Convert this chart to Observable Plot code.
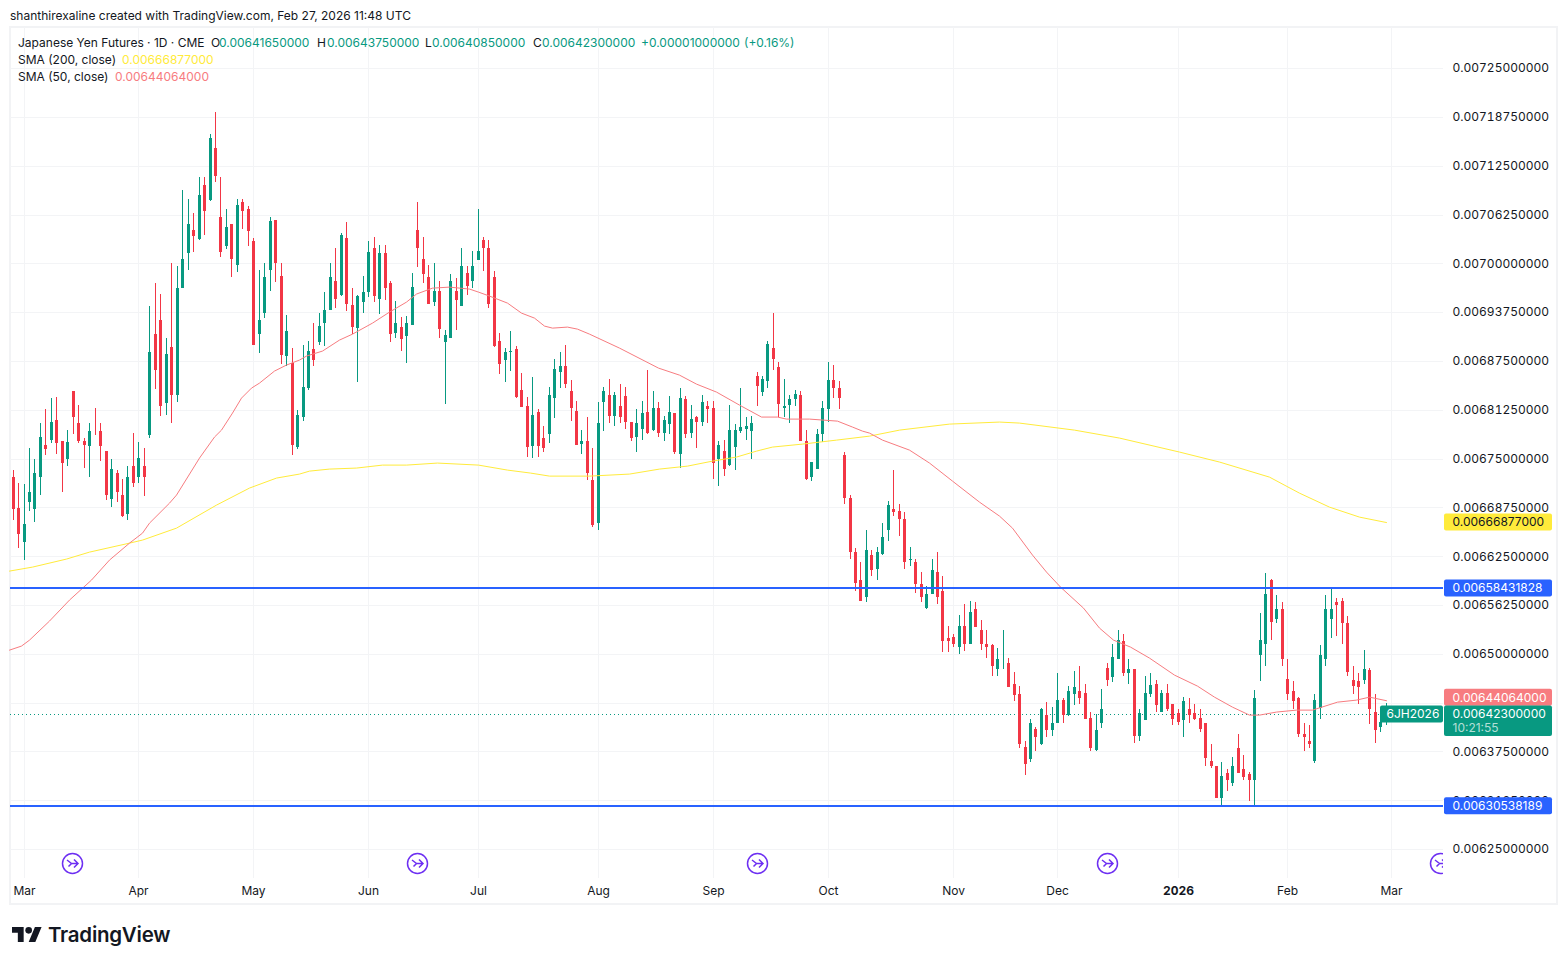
<!DOCTYPE html>
<html>
<head>
<meta charset="utf-8">
<script src="https://cdn.jsdelivr.net/npm/d3@7"></script>
<script src="https://cdn.jsdelivr.net/npm/@observablehq/plot@0.6"></script>
<style>
  html, body { margin: 0; padding: 0; background: #fff; }
  body { width: 1567px; height: 964px; position: relative; overflow: hidden; font-family: Inter, sans-serif; color: #131722; }
  #credit { position: absolute; left: 10px; top: 8px; font-size: 12px; line-height: 15px; white-space: nowrap; }
  #chart { position: absolute; left: 0; top: 27px; }
  #chart svg { display: block; }
  #pane { position: absolute; left: 9px; top: 26px; width: 1545px; height: 875px; border: 2px solid #f2f3f5; pointer-events: none; }
  .lg { position: absolute; left: 18px; font-size: 12px; line-height: 15px; white-space: nowrap; }
  .lg span { position: absolute; top: 0; }
  #brand { position: absolute; left: 12px; top: 923px; display: flex; align-items: center; height: 22px; }
  #brand b { font-size: 20.5px; font-weight: 600; letter-spacing: -0.25px; margin-left: 6px; color: #131722; }
</style>
</head>
<body>
<div id="credit">shanthirexaline created with TradingView.com, Feb 27, 2026 11:48 UTC</div>
<div id="pane"></div>
<div id="chart"></div>
<div class="lg" style="top:35px">Japanese Yen Futures · 1D · CME
  <span style="left:193px">O</span><span style="left:201px;color:#089981">0.00641650000</span>
  <span style="left:299px">H</span><span style="left:309px;color:#089981">0.00643750000</span>
  <span style="left:407px">L</span><span style="left:414px;color:#089981">0.00640850000</span>
  <span style="left:515px">C</span><span style="left:524px;color:#089981">0.00642300000</span>
  <span style="left:623px;color:#089981">+0.00001000000</span><span style="left:726px;color:#089981">(+0.16%)</span>
</div>
<div class="lg" style="top:52px">SMA (200, close)<span style="left:104px;color:#ffeb3b">0.00666877000</span></div>
<div class="lg" style="top:69px">SMA (50, close)<span style="left:97px;color:#f77c80">0.00644064000</span></div>
<div id="brand">
  <svg width="30" height="15" viewBox="0 4 36 18"><path fill="#131722" d="M14 22H7V11H0V4h14v18zM28 22h-8l7.5-18h8L28 22z"/><circle fill="#131722" cx="20" cy="8" r="4"/></svg>
  <b>TradingView</b>
</div>
<script>
// All prices in units of 0.00001 USD per JPY
const unit = 1e-5;
const open = [
672.6,668.7,664.3,669.5,668.5,672.6,676.7,677.4,679.9,677.2,
674.9,683.6,679.6,677.3,676.6,678.7,678.5,676.0,669.8,673.2,
670.3,667.9,674.0,672.6,674.0,678.0,690.9,692.7,682.1,689.3,
683.1,696.8,701.3,704.3,703.1,710.0,708.1,714.8,705.9,702.2,
705.1,699.8,707.9,706.9,702.8,690.9,693.7,699.2,705.5,698.4,
688.1,687.3,676.5,680.3,684.1,689.0,689.9,692.4,694.0,697.7,
695.9,703.2,694.7,691.7,695.0,696.3,702.0,695.4,701.3,697.5,
691.1,691.9,690.7,692.1,704.3,700.5,698.2,695.0,696.4,689.9,
690.5,696.5,694.5,698.8,697.8,700.4,703.0,701.9,698.2,690.1,
687.6,688.6,689.0,683.8,681.7,676.6,681.0,677.7,678.2,682.7,
686.1,686.8,683.6,681.1,676.9,677.3,672.3,666.7,682.3,683.1,
680.4,681.7,683.0,679.7,677.8,678.8,681.0,678.7,681.5,678.3,
679.4,680.8,675.6,682.6,678.3,680.3,679.7,681.7,681.5,674.9,
676.0,674.2,676.5,678.5,678.8,678.5,685.6,683.5,684.9,689.2,
686.7,681.5,681.8,682.6,683.2,677.3,672.7,673.7,678.1,681.4,
685.1,684.0,675.5,669.9,663.0,659.4,657.3,662.7,660.9,662.8,
665.8,668.6,668.3,667.3,662.0,661.7,658.9,655.9,657.6,660.5,
658.0,652.0,652.1,650.9,653.6,651.3,655.7,653.1,651.2,651.1,
648.1,648.9,648.8,646.1,644.8,638.1,636.5,640.4,638.5,642.2,
640.3,641.2,644.1,642.2,644.9,645.3,645.0,641.8,637.7,641.1,
648.2,647.0,649.4,651.7,647.5,648.0,639.5,641.5,644.8,646.1,
642.5,645.0,643.6,642.4,641.5,643.0,642.4,641.8,641.2,636.3,
635.7,631.6,634.8,633.4,637.9,635.2,634.6,633.9,649.9,651.3,
659.5,654.5,655.8,646.8,645.3,644.4,639.7,638.9,636.3,643.1,
649.3,654.5,656.6,656.8,654.0,646.7,646.5,646.6,647.9,642.6,
640.6,641.65];
const close = [
668.5,665.3,666.6,670.7,673.1,677.8,676.2,679.7,677.0,674.4,
677.1,680.3,677.2,676.8,678.5,678.6,676.6,670.4,673.7,670.7,
667.6,672.7,671.9,675.1,672.6,688.6,686.3,681.7,688.4,683.2,
696.9,700.6,705.1,703.5,708.8,706.7,716.1,711.2,701.4,704.7,
700.5,707.5,706.7,704.1,689.6,692.8,698.2,705.4,700.0,688.2,
691.3,676.7,680.6,684.2,688.8,687.6,692.0,694.0,698.3,695.4,
703.6,694.8,691.8,695.8,696.3,701.4,695.8,701.3,696.9,690.9,
692.4,690.3,692.4,697.0,701.9,698.6,694.8,696.5,691.6,690.8,
697.8,695.3,699.7,697.1,699.6,701.6,701.9,694.8,689.4,687.1,
688.7,688.8,682.9,681.6,676.5,680.6,676.6,676.3,683.1,686.5,
686.9,684.5,681.5,676.7,677.3,673.1,666.5,679.6,683.7,680.4,
683.1,680.3,679.7,677.6,679.5,680.9,678.3,681.5,678.3,680.0,
681.0,675.8,682.7,678.1,680.1,679.7,682.3,681.3,674.4,676.8,
673.7,678.7,678.7,679.0,679.2,679.6,684.3,685.2,689.7,687.8,
682.0,681.7,682.6,683.3,677.3,672.4,674.5,678.1,681.5,685.0,
684.1,682.7,670.0,663.1,659.1,656.8,663.3,660.7,663.1,664.9,
669.1,668.2,667.3,661.8,662.1,658.9,657.3,657.6,660.7,657.3,
651.7,651.6,651.2,653.6,651.3,655.4,653.4,651.3,650.9,648.5,
649.4,649.0,645.8,644.7,638.4,635.9,641.1,639.3,643.0,640.3,
641.1,644.1,642.2,645.3,645.7,644.3,641.7,637.9,640.3,642.9,
646.7,649.6,651.8,647.6,648.1,639.5,642.4,645.0,646.0,643.4,
645.0,642.9,641.7,641.3,643.9,642.2,641.6,640.4,636.7,635.7,
631.6,634.3,633.8,635.6,634.7,634.2,633.9,644.4,651.8,657.6,
654.1,655.8,649.3,644.8,644.0,639.7,639.3,638.4,644.1,649.9,
655.8,655.7,656.2,654.0,647.7,645.9,645.7,648.0,642.9,640.2,
641.3,642.3];
const high = [
673.6,671.9,671.8,676.3,674.9,679.6,681.3,682.7,682.9,677.3,
678.6,683.7,681.9,677.6,679.6,681.5,679.6,676.0,675.0,673.6,
672.4,674.0,678.3,677.1,676.4,694.5,697.5,696.1,690.5,700.0,
699.7,709.4,708.3,706.4,711.0,711.0,716.5,719.4,711.0,707.0,
705.1,708.2,708.3,707.3,703.3,699.1,700.0,705.9,705.6,700.1,
693.4,689.1,681.2,689.5,690.1,692.3,693.6,696.3,700.0,702.0,
703.9,705.3,696.8,696.0,698.4,702.8,703.4,702.3,702.4,697.8,
695.2,693.1,693.3,698.7,707.9,703.4,699.8,700.0,697.8,691.5,
698.6,698.1,701.9,699.7,701.6,706.9,703.4,703.0,699.0,691.1,
689.1,691.3,689.4,685.9,682.9,685.5,681.3,679.2,684.2,687.8,
688.7,689.6,685.0,682.4,678.6,680.3,676.4,682.3,684.2,685.2,
683.5,684.5,684.2,679.7,681.4,682.4,686.3,683.7,682.2,680.4,
683.0,680.9,684.0,683.0,681.9,680.4,683.1,682.4,682.4,677.2,
677.4,681.8,679.4,684.1,680.3,680.5,686.1,685.6,690.0,693.7,
687.4,685.2,683.1,683.8,683.6,678.6,674.6,678.8,682.4,687.4,
687.0,684.9,675.9,670.3,663.6,661.7,665.9,663.3,663.7,666.8,
669.6,673.5,669.2,668.2,663.7,662.1,660.5,658.7,662.2,663.0,
660.0,653.6,652.5,655.0,656.4,656.8,656.7,654.3,653.1,651.3,
650.8,653.0,649.5,647.7,645.9,638.9,641.6,640.6,643.1,643.8,
643.2,647.5,644.3,645.9,647.8,648.5,646.1,642.5,642.3,645.5,
648.8,651.2,653.1,652.5,649.4,648.0,643.0,647.2,647.6,646.7,
645.4,646.2,643.6,642.9,644.5,644.4,643.6,642.9,641.2,638.4,
635.7,636.1,635.2,636.8,639.7,637.0,634.9,645.4,655.2,660.3,
659.6,657.5,656.6,649.4,646.5,644.5,641.1,640.9,644.9,651.1,
657.5,658.5,657.2,657.1,654.8,648.4,647.6,650.5,648.2,644.8,
642.2,643.75];
const low = [
667.2,663.5,662.0,668.3,666.9,670.3,675.4,677.0,675.6,670.7,
674.1,678.1,677.0,673.8,672.6,678.0,674.7,669.7,668.8,669.5,
667.5,667.1,671.3,671.9,670.2,677.7,683.9,680.4,680.6,679.6,
682.2,696.8,699.2,701.4,703.0,703.6,708.0,710.4,700.8,701.8,
698.2,698.9,704.4,702.2,689.5,688.5,693.0,696.4,697.6,687.1,
686.8,675.4,676.2,679.8,683.8,686.8,689.6,689.4,694.0,694.3,
695.8,693.9,690.9,684.8,693.6,695.7,695.0,693.5,695.3,689.9,
690.5,688.8,687.3,692.1,699.5,697.5,694.8,694.6,690.5,682.0,
690.4,691.5,694.5,696.0,696.8,700.4,699.0,694.3,689.3,685.8,
684.8,686.2,682.8,681.6,675.2,675.1,675.2,675.9,677.0,680.2,
684.0,684.1,679.8,676.7,675.6,672.3,666.2,665.8,678.5,679.6,
679.2,679.6,678.8,677.2,675.9,677.4,678.1,678.5,677.8,677.3,
678.2,675.6,673.8,677.6,677.7,676.3,679.2,679.6,672.4,671.5,
672.8,674.0,673.6,678.3,677.4,674.9,681.7,683.0,684.1,686.3,
680.3,680.3,679.6,681.7,677.2,672.3,672.1,673.7,677.1,679.7,
682.8,681.3,669.2,662.2,658.1,656.8,656.6,660.0,659.4,662.6,
664.4,667.7,665.1,660.8,661.3,657.8,656.6,655.7,657.6,656.4,
650.3,650.3,650.9,650.0,650.4,651.2,653.4,650.5,649.5,647.1,
647.1,648.1,645.7,643.9,637.9,634.5,636.1,637.5,638.3,639.3,
639.5,641.2,641.1,642.1,643.5,643.6,641.6,637.5,637.5,640.5,
645.9,646.4,649.4,647.2,646.2,638.6,638.9,641.5,644.5,642.5,
642.5,642.7,640.9,640.9,639.4,641.1,641.5,640.0,635.6,635.4,
631.6,630.6,632.5,633.1,634.7,633.8,631.1,630.6,646.5,648.4,
651.8,653.9,648.4,644.1,642.9,639.3,637.6,637.9,636.0,641.7,
648.5,652.0,652.3,651.2,647.1,644.8,643.6,646.2,641.0,638.6,
640.0,640.85];

// SMA vertices: bar position and value
const sma50Bar = [-0.6,1.6,3,6.7,10.4,14.3,17.7,21.3,23.7,25,28.6,29.9,34.1,36.9,38.1,40.2,41.8,43.6,45.1,47.8,50,52.4,53.6,56.6,59.7,62.1,65.7,68.9,72,73.8,76.7,79.8,83.5,85,87.1,90.3,93,95.4,97.2,98.7,101.4,103.2,105.4,110.9,117.9,121.9,125,128.6,132.8,136.9,139.8,141.4,145.6,150.8,153.5,155.3,156.6,159,163.9,167.6,171.8,176.7,180.4,182.7,186.4,188.9,191.4,195.6,198.7,201.1,204.2,207.8,212.4,216.6,219.7,223,226.1,227.9,231,234.7,237.6,242.2,245.6,248,251];
const sma50 = [650.54,651.06,651.82,654.26,656.95,659.51,662.07,664.24,665.52,666.80,669.36,670.39,675.13,677.82,678.71,680.89,682.81,684.09,684.73,686.27,687.04,687.68,688.19,688.83,690.24,691.0,692.41,693.82,695.10,696.13,696.89,697.02,696.77,696.38,695.87,694.97,693.69,693.05,692.03,691.77,691.90,691.64,691.0,689.21,686.65,685.75,684.60,683.58,681.91,680.38,680.38,680.12,680.12,679.86,679.10,678.58,678.33,677.43,676.15,674.49,672.18,669.49,667.70,666.16,662.71,660.53,658.61,655.92,653.36,651.82,650.93,649.52,647.34,645.93,644.52,643.24,642.22,642.22,642.61,642.86,642.86,643.88,644.14,644.52,644.064];
const sma200Bar = [-0.6,3.6,9.8,14,21.3,23.7,29.9,37.2,43.3,48.2,52.4,54.2,57.9,62.8,67.6,72,77.5,85,90.3,94.5,98.1,105.4,112.7,118.2,123.2,127.9,132.3,135.9,138.9,144.4,150.6,156.6,162.1,171.2,180.4,184,194.1,202.3,213.3,220.6,229.7,235.2,240.7,246.2,251];
const sma200 = [660.66,661.17,662.20,663.09,664.24,664.63,666.16,669.11,671.29,672.57,673.08,673.46,673.72,673.85,674.23,674.23,674.49,674.23,673.59,673.21,672.82,672.82,673.08,673.72,674.10,674.74,675.26,676.02,676.54,676.92,677.43,677.94,678.71,679.48,679.74,679.61,678.71,677.69,675.90,674.62,672.69,670.64,668.85,667.57,666.877];

const gridPrices = [725,718.75,712.5,706.25,700,693.75,687.5,681.25,675,668.75,662.5,656.25,650,643.75,637.5,631.25,625];
const priceTicks = [725,718.75,712.5,706.25,700,693.75,687.5,681.25,675,668.75,662.5,656.25,650,637.5,631.25,625];
const monthBars = [2,23,44,65,85,107,128,149,172,191,213,233,252];
const monthLabels = ["Mar","Apr","May","Jun","Jul","Aug","Sep","Oct","Nov","Dec","2026","Feb","Mar"];
const rollBars = [10.9,73.9,136,200,261];
const levels = [658.431828, 630.538189];
const lastClose = 642.3;

const tagNames = ["0.00666877000","0.00658431828","0.00642300000","0.00630538189"];
const tagValues = [666.877,658.431828,642.3,630.538189];
const tagFills = ["#ffeb3b","#2962ff","#089981","#2962ff"];
const tagInks = ["#131722","#ffffff","#ffffff","#ffffff"];
const smaTagName = "0.00644064000";
const smaTagValue = 644.064;

const GREEN = "#089981", RED = "#f23645", PINK = "#f77c80";
const candles = open.map((o,i) => ({i, open:o*unit, close:close[i]*unit, high:high[i]*unit, low:low[i]*unit,
  c: close[i] >= o ? GREEN : RED}));
const s50 = sma50.map((v,k) => ({x:sma50Bar[k], y:v*unit}));
const s200 = sma200.map((v,k) => ({x:sma200Bar[k], y:v*unit}));
const tags = tagNames.map((t,k) => ({t, v:tagValues[k]*unit, fill:tagFills[k], ink:tagInks[k]}));
const fmt = d => d.toFixed(11);
const GRID = "#f3f4f6";
const TAGH = 1.09 * unit;   // half tag height in price units
const TX1 = 261.68, TX2 = 281.38, TTEXT = 263.15;

const rollSymbol = { draw(ctx, size) {
  const r = Math.sqrt(size / Math.PI);
  ctx.moveTo(r, 0); ctx.arc(0, 0, r, 0, 2 * Math.PI);
  const k = r / 10;
  ctx.moveTo(-5.5*k, -3.5*k); ctx.lineTo(-1*k, 0); ctx.lineTo(-4*k, 3*k);
  ctx.moveTo(-1*k, 0); ctx.lineTo(5.5*k, 0);
  ctx.moveTo(1.5*k, -4*k); ctx.lineTo(5.5*k, 0); ctx.lineTo(1.5*k, 4*k);
}};

const chart = Plot.plot({
  width: 1567, height: 877,
  marginTop: 0, marginBottom: 26, marginLeft: 10, marginRight: 124,
  style: {fontFamily: "Inter, sans-serif", fontSize: "12px", color: "#131722", background: "none"},
  x: {domain: [-0.475, 261.5], round: true, axis: null},
  y: {domain: [621.30*unit, 730.26*unit], axis: null},
  color: {type: "identity"},
  marks: [
    Plot.ruleY(gridPrices.map(d => d*unit), {stroke: GRID, strokeWidth: 1, shapeRendering: "crispEdges"}),
    Plot.ruleX(monthBars, {stroke: GRID, strokeWidth: 1}),
    Plot.axisY(priceTicks.map(d => d*unit), {anchor: "right", tickSize: 0, tickPadding: 9, tickFormat: fmt, label: null, fill: "#131722"}),
    Plot.axisX(monthBars.filter((d,k) => monthLabels[k] !== "2026"), {anchor: "bottom", tickSize: 0, tickPadding: 8, label: null, fill: "#131722",
      tickFormat: d => monthLabels[monthBars.indexOf(d)]}),
    Plot.axisX(monthBars.filter((d,k) => monthLabels[k] === "2026"), {anchor: "bottom", tickSize: 0, tickPadding: 8, label: null, fill: "#131722", fontWeight: 700,
      tickFormat: d => monthLabels[monthBars.indexOf(d)]}),
    Plot.dot(rollBars, {x: d => d, frameAnchor: "bottom", dy: -15, r: 10, symbol: rollSymbol, stroke: "#6d2ff2", strokeWidth: 1.5, fill: "none", clip: "frame"}),
    Plot.ruleY([lastClose*unit], {stroke: GREEN, strokeWidth: 1, strokeDasharray: "1 3", shapeRendering: "crispEdges"}),
    Plot.ruleX(candles, {x: "i", y1: "low", y2: "high", stroke: "c", strokeWidth: 1, shapeRendering: "crispEdges"}),
    Plot.ruleX(candles, {x: "i", y1: "open", y2: "close", stroke: "c", strokeWidth: 3, shapeRendering: "crispEdges"}),
    Plot.line(s200, {x: "x", y: "y", stroke: "#ffeb3b", strokeWidth: 1, curve: "linear"}),
    Plot.line(s50, {x: "x", y: "y", stroke: PINK, strokeWidth: 1, curve: "linear"}),
    Plot.ruleY(levels.map(d => d*unit), {stroke: "#2962ff", strokeWidth: 2, shapeRendering: "crispEdges"}),
    // "6JH2026" symbol tag and price tags
    Plot.rect([lastClose*unit], {x1: 249.98, x2: 261.5, y1: d => d + 1.09*unit, y2: d => d - 1.09*unit, fill: GREEN, rx: 2}),
    Plot.text(["6JH2026"], {x: 251.1, y: () => lastClose*unit, text: d => d, textAnchor: "start", fill: "#fff"}),
    // SMA 50 tag sits pushed upward against the last-price tag, as in the reference
    Plot.rect([smaTagValue*unit], {x1: TX1, x2: TX2, y1: d => d + TAGH, y2: d => d - TAGH, dy: -3, fill: PINK, rx: 2}),
    Plot.text([smaTagName], {x: TTEXT, y: () => smaTagValue*unit, dy: -3, text: d => d, textAnchor: "start", fill: "#fff"}),
    Plot.rect(tags, {x1: TX1, x2: TX2, y1: d => d.v + TAGH, y2: d => d.v === lastClose*unit ? d.v - 2.82*unit : d.v - TAGH, fill: "fill", rx: 2}),
    Plot.text(tags, {x: TTEXT, y: "v", text: "t", textAnchor: "start", fill: "ink"}),
    Plot.text(["10:21:55"], {x: TTEXT, y: () => lastClose*unit, dy: 14, text: d => d, textAnchor: "start", fill: "#ffffff", fillOpacity: 0.7})
  ]
});
document.getElementById("chart").appendChild(chart);
</script>
</body>
</html>
